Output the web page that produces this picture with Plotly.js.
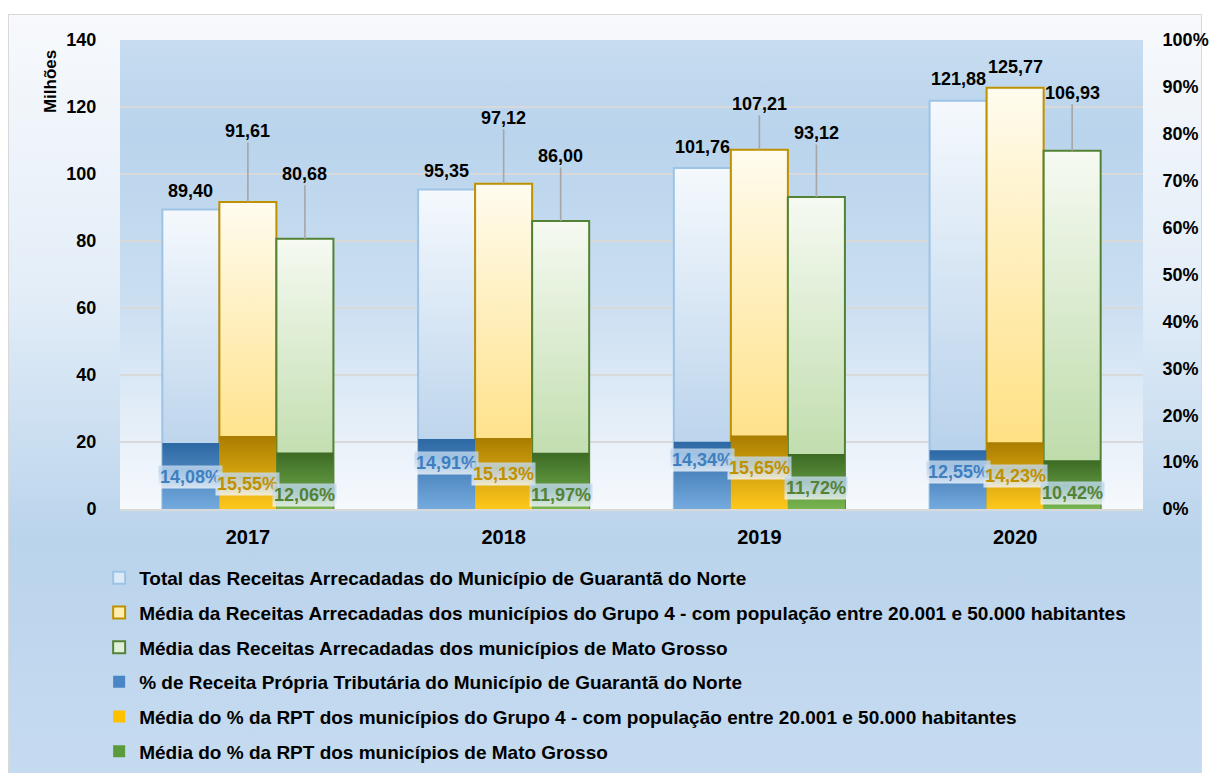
<!DOCTYPE html>
<html>
<head>
<meta charset="utf-8">
<script src="https://cdn.plot.ly/plotly-3.0.1.min.js"></script>
<style>
  html, body { margin:0; padding:0; background:#ffffff; width:1209px; height:773px; overflow:hidden; }
  #frame { position:absolute; left:8px; top:14px; width:1192px; height:770px; border:1px solid #d9d9d9;
    background: linear-gradient(to bottom, #f7f9fc 0%, #e4eef8 35%, #bad4ec 68%, #c6dbf0 100%); }
  #chart { position:absolute; left:0; top:0; width:1209px; height:773px; }
</style>
</head>
<body>
<div id="frame"></div>
<div id="chart"></div>
<script>
// ---- data ----
const years = ['2017', '2018', '2019', '2020'];
const totalGuaranta = [89.40, 95.35, 101.76, 121.88];
const mediaGrupo4 = [91.61, 97.12, 107.21, 125.77];
const mediaMT = [80.68, 86.00, 93.12, 106.93];
const pctGuaranta = [14.08, 14.91, 14.34, 12.55];
const pctGrupo4 = [15.55, 15.13, 15.65, 14.23];
const pctMT = [12.06, 11.97, 11.72, 10.42];
const seriesNames = [
  'Total das Receitas Arrecadadas do Município de Guarantã do Norte',
  'Média da Receitas Arrecadadas dos municípios do Grupo 4 - com população entre 20.001 e 50.000 habitantes',
  'Média das Receitas Arrecadadas dos municípios de Mato Grosso',
  '% de Receita Própria Tributária do Município de Guarantã do Norte',
  'Média do % da RPT dos municípios do Grupo 4 - com população entre 20.001 e 50.000 habitantes',
  'Média do % da RPT dos municípios de Mato Grosso'
];

// ---- styles / label placement (pixels) ----
const totals = [totalGuaranta, mediaGrupo4, mediaMT];
const pcts = [pctGuaranta, pctGrupo4, pctMT];
const barWidth = 0.223;
const barOffsets = [-0.3345, -0.1115, 0.1115];
const totalColors = ['#dce9f6', '#ffeeb0', '#e2efd9'];
const totalBorders = ['#9dc3e6', '#bf9000', '#548235'];
const pctColors = ['#4a86c5', '#ffc000', '#5b9b3c'];
const pctTextColors = ['#3f7fc0', '#bf9000', '#548235'];
const topLabelShift = [[-19, -19, -21, -22], [-71, -66, -46, -21], [-65, -65, -64, -58]];
const pctLabelShift = [[34, 24, 18, 22], [48, 36, 32, 34], [43, 42, 34, 33]];
const gradTotals = [['#f5f9fd', '#aecbe8'], ['#fffcef', '#ffdb70'], ['#f6faf2', '#b6d7a0']];
const gradPcts = [['#2c68a4', '#74aade'], ['#a87c00', '#ffc81c'], ['#3c6a24', '#78b450']];

const fmt = v => v.toFixed(2).replace('.', ',');
const font = 'Liberation Sans, Arial, sans-serif';

const traces = [];
for (let i = 0; i < 3; i++) {
  traces.push({
    type: 'bar', x: years, y: totals[i], name: seriesNames[i],
    width: barWidth, offset: barOffsets[i], legendgroup: 'g' + i,
    marker: { color: totalColors[i], line: { color: totalBorders[i], width: 2 } },
    hoverinfo: 'skip'
  });
}
for (let i = 0; i < 3; i++) {
  traces.push({
    type: 'bar', x: years, y: pcts[i], name: seriesNames[3 + i], yaxis: 'y2',
    width: barWidth, offset: barOffsets[i], legendgroup: 'g' + (3 + i),
    marker: { color: pctColors[i], line: { width: 0 } },
    hoverinfo: 'skip'
  });
}

const annotations = [];
for (let i = 0; i < 3; i++) {
  const cx = barOffsets[i] + barWidth / 2;
  for (let j = 0; j < years.length; j++) {
    const sh = topLabelShift[i][j];
    const a = {
      xref: 'x', yref: 'y', x: j + cx, y: totals[i][j],
      text: fmt(totals[i][j]),
      font: { family: font, size: 18, color: '#000', weight: 'bold' }
    };
    if (Math.abs(sh) > 30) {
      Object.assign(a, { showarrow: true, arrowhead: 0, arrowwidth: 1.6, arrowcolor: '#a6a6a6',
        ax: 0, ay: sh, axref: 'pixel', ayref: 'pixel', standoff: 0, startstandoff: 0 });
    } else {
      Object.assign(a, { showarrow: false, yanchor: 'middle', yshift: -sh });
    }
    annotations.push(a);
  }
}
for (let i = 0; i < 3; i++) {
  const cx = barOffsets[i] + barWidth / 2;
  for (let j = 0; j < years.length; j++) {
    annotations.push({
      xref: 'x', yref: 'y2', x: j + cx, y: pcts[i][j],
      text: fmt(pcts[i][j]) + '%', showarrow: false, yanchor: 'middle',
      yshift: -pctLabelShift[i][j],
      bgcolor: 'rgba(255,255,255,0.8)', borderpad: 1,
      font: { family: font, size: 18, color: pctTextColors[i], weight: 'bold' }
    });
  }
}
annotations.push({
  xref: 'paper', yref: 'paper', x: -0.0684, y: 0.9104, xanchor: 'center', yanchor: 'middle',
  showarrow: false, text: 'Milhões', textangle: -90,
  font: { family: font, size: 17, color: '#000', weight: 'bold' }
});

const layout = {
  width: 1209, height: 773,
  margin: { l: 120, r: 66, t: 40, b: 264, autoexpand: false },
  paper_bgcolor: 'rgba(0,0,0,0)',
  plot_bgcolor: '#d6e5f4',
  barmode: 'overlay',
  showlegend: true,
  hovermode: false,
  font: { family: font, color: '#000' },
  xaxis: {
    type: 'category', range: [-0.5, 3.5], showgrid: false, automargin: false,
    showline: true, linecolor: '#d9d9d9', linewidth: 2,
    ticks: 'outside', ticklen: 9, tickcolor: 'rgba(0,0,0,0)',
    tickfont: { family: font, size: 20, color: '#000', weight: 'bold' }
  },
  yaxis: {
    range: [0, 140], dtick: 20, tick0: 0, automargin: false,
    showgrid: true, gridcolor: '#d9d9d9', gridwidth: 2, zeroline: false, showline: false,
    ticks: 'outside', ticklen: 19, tickcolor: 'rgba(0,0,0,0)',
    tickfont: { family: font, size: 18, color: '#000', weight: 'bold' }
  },
  yaxis2: {
    overlaying: 'y', side: 'right', range: [0, 100], dtick: 10, tick0: 0, automargin: false,
    ticksuffix: '%', showgrid: false, zeroline: false, showline: false,
    ticks: 'outside', ticklen: 15, tickcolor: 'rgba(0,0,0,0)',
    tickfont: { family: font, size: 18, color: '#000', weight: 'bold' }
  },
  legend: {
    xref: 'container', yref: 'container', x: 0.082, y: 0.277,
    xanchor: 'left', yanchor: 'top', orientation: 'v',
    traceorder: 'grouped', tracegroupgap: 7,
    bgcolor: 'rgba(0,0,0,0)',
    font: { family: font, size: 19, color: '#000', weight: 'bold' }
  },
  annotations: annotations
};

Plotly.newPlot('chart', traces, layout, { displayModeBar: false, staticPlot: true }).then(gd => {
  const NS = 'http://www.w3.org/2000/svg';
  const svg = gd.querySelector('svg.main-svg');
  let defs = svg.querySelector('defs');
  if (!defs) { defs = document.createElementNS(NS, 'defs'); svg.insertBefore(defs, svg.firstChild); }
  function addGrad(id, stops) {
    const g = document.createElementNS(NS, 'linearGradient');
    g.setAttribute('id', id);
    g.setAttribute('x1', '0'); g.setAttribute('y1', '0'); g.setAttribute('x2', '0'); g.setAttribute('y2', '1');
    stops.forEach(s => {
      const st = document.createElementNS(NS, 'stop');
      st.setAttribute('offset', s[0]); st.setAttribute('stop-color', s[1]);
      g.appendChild(st);
    });
    defs.appendChild(g);
  }
  for (let i = 0; i < 3; i++) {
    addGrad('gt' + i, [[0, gradTotals[i][0]], [1, gradTotals[i][1]]]);
    addGrad('gp' + i, [[0, gradPcts[i][0]], [1, gradPcts[i][1]]]);
  }
  addGrad('plotbg', [[0, '#c7dcf0'], [0.2, '#b9d4ec'], [0.55, '#cadef1'], [1, '#f6f9fd']]);
  gd.querySelectorAll('.barlayer .trace').forEach(tr => {
    const d = tr.__data__;
    if (!d || !d[0] || !d[0].trace) return;
    const idx = d[0].trace.index;
    const id = idx < 3 ? 'gt' + idx : 'gp' + (idx - 3);
    tr.querySelectorAll('path').forEach(p => { p.style.fill = 'url(#' + id + ')'; });
  });
  gd.querySelectorAll('rect.bg').forEach(r => { r.style.fill = 'url(#plotbg)'; });
});
</script>
</body>
</html>
